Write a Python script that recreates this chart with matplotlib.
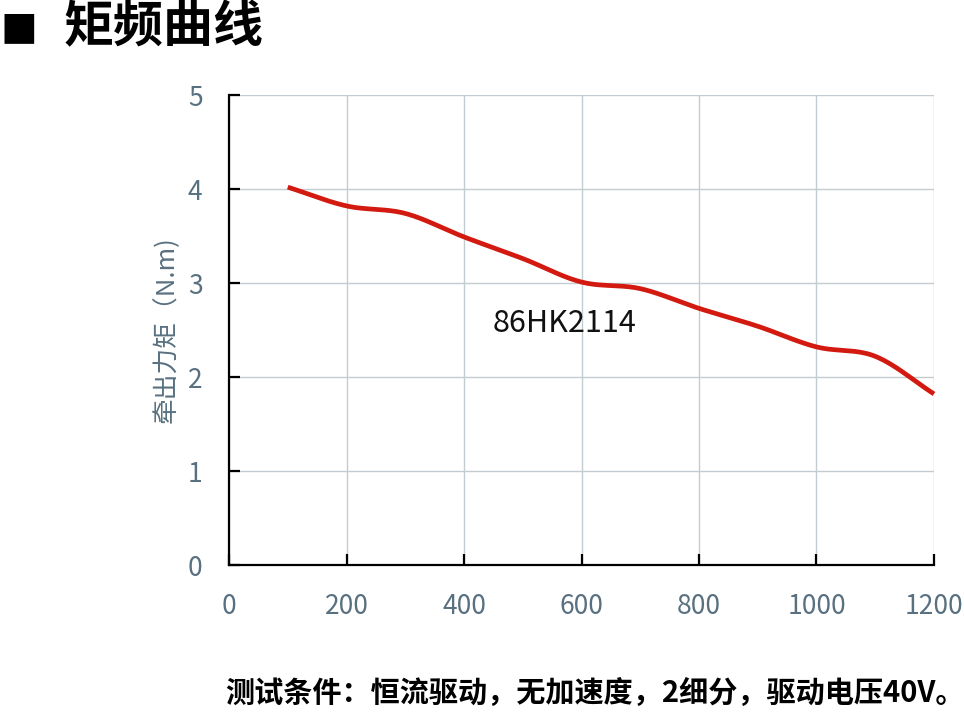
import numpy as np
import matplotlib
matplotlib.use("Agg")
import matplotlib.pyplot as plt

plt.rcParams['font.family'] = ['Noto Sans CJK SC', 'DejaVu Sans']

speed = [100, 200, 300, 400, 500, 600, 700, 800, 900, 1000, 1100, 1200]
torque = [4.02, 3.82, 3.74, 3.49, 3.26, 3.01, 2.94, 2.73, 2.54, 2.32, 2.22, 1.82]
xticks = [0, 200, 400, 600, 800, 1000, 1200]
yticks = [0, 1, 2, 3, 4, 5]
title = "矩频曲线"
ylabel = "牵出力矩（N.m)"
model = "86HK2114"
footer = "测试条件：恒流驱动，无加速度，2细分，驱动电压40V。"


def smooth(x, y, n=20):
    # Catmull-Rom rendering of the polyline (for a smooth stroke)
    x = np.asarray(x, float); y = np.asarray(y, float)
    px = np.concatenate([[2 * x[0] - x[1]], x, [2 * x[-1] - x[-2]]])
    py = np.concatenate([[2 * y[0] - y[1]], y, [2 * y[-1] - y[-2]]])
    xs, ys = [], []
    t = np.linspace(0, 1, n, endpoint=False)
    for i in range(1, len(px) - 2):
        for arr, out in ((px, xs), (py, ys)):
            p0, p1, p2, p3 = arr[i - 1], arr[i], arr[i + 1], arr[i + 2]
            out.extend(0.5 * ((2 * p1) + (-p0 + p2) * t + (2 * p0 - 5 * p1 + 4 * p2 - p3) * t ** 2
                              + (-p0 + 3 * p1 - 3 * p2 + p3) * t ** 3))
    xs.append(x[-1]); ys.append(y[-1])
    return np.array(xs), np.array(ys)


fig = plt.figure(figsize=(9.64, 7.12), dpi=100)
ax = fig.add_axes([229 / 964, 147 / 712, 705 / 964, 470 / 712])

ax.set_xlim(0, 1200)
ax.set_ylim(0, 5)
ax.set_xticks(xticks)
ax.set_yticks(yticks)
ax.grid(True, color='#c2ccd1', linewidth=1.0)
ax.set_axisbelow(True)
for s in ['top', 'right']:
    ax.spines[s].set_visible(False)
for s in ['left', 'bottom']:
    ax.spines[s].set_color('black')
    ax.spines[s].set_linewidth(1.6)
ax.tick_params(direction='in', length=8, width=1.6, color='black',
               labelcolor='#587080', labelsize=19)
ax.tick_params(axis='x', pad=20)
ax.tick_params(axis='y', pad=19)

sx, sy = smooth(speed, torque)
ax.plot(sx, sy, color='#d21a10', linewidth=3.4, solid_capstyle='butt', clip_on=False)

ax.text(448, 2.57, model, fontsize=22, color='#111111', ha='left', va='center')
ax.set_ylabel(ylabel, fontsize=18.5, color='#587080', labelpad=6)

fig.text(0.0, 1 - 27 / 712, "■", fontsize=28, fontweight='bold', va='center', ha='left',
         family=['DejaVu Sans'])
fig.text(64 / 964, 1 - 27 / 712, title, fontsize=36, fontweight='bold', va='center', ha='left')
fig.text(225 / 964, 1 - 693 / 712, footer, fontsize=21, fontweight='bold', va='center',
         ha='left', color='black')

fig.savefig("out.png", dpi=100)
